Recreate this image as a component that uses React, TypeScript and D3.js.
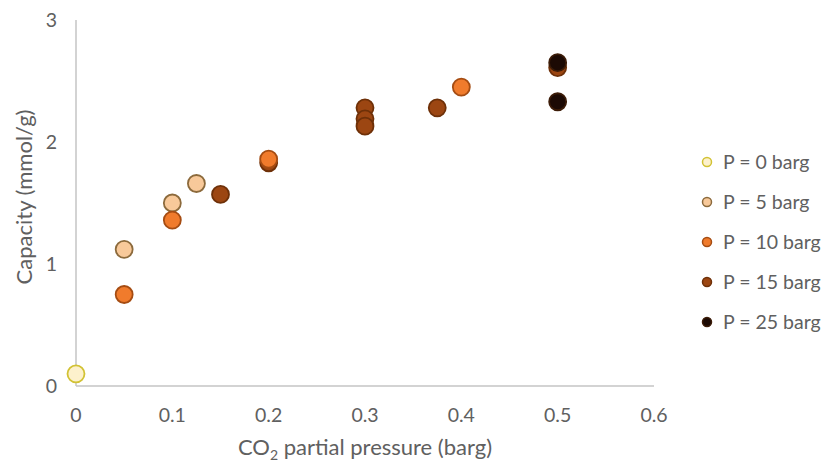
import React, { useRef, useEffect } from 'react';
import * as d3 from 'd3';

// pressure series (legend order)
const seriesNames = ['P = 0 barg', 'P = 5 barg', 'P = 10 barg', 'P = 15 barg', 'P = 25 barg'];
const seriesFill = ['#fdf1cc', '#f8c99a', '#f07b2c', '#9c4612', '#1c0a04'];
const seriesStroke = ['#d2c234', '#8c6a3c', '#a54c12', '#6e3008', '#3c1c08'];

// CO2 partial pressure (barg) / capacity (mmol/g)
const p0X = [0];
const p0Y = [0.1];
const p5X = [0.05, 0.1, 0.125];
const p5Y = [1.12, 1.5, 1.66];
const p10X = [0.05, 0.1, 0.2, 0.4];
const p10Y = [0.75, 1.36, 1.86, 2.45];
const p15X = [0.15, 0.2, 0.3, 0.3, 0.3, 0.375, 0.5];
const p15Y = [1.57, 1.83, 2.28, 2.19, 2.13, 2.28, 2.61];
const p25X = [0.5, 0.5];
const p25Y = [2.65, 2.33];

const xTicks = [0, 0.1, 0.2, 0.3, 0.4, 0.5, 0.6];
const yTicks = [0, 1, 2, 3];

const W = 837;
const H = 464;
const margin = { left: 76, top: 20, right: 183, bottom: 78 };
const FONT = 'Lato, sans-serif';
const TEXT = '#606060';

const App = () => {
  const ref = useRef<SVGGElement>(null);

  useEffect(() => {
    const g = d3.select(ref.current);
    g.selectAll('*').remove();

    const x = d3.scaleLinear().domain([0, 0.6]).range([margin.left, W - margin.right]);
    const y = d3.scaleLinear().domain([0, 3]).range([H - margin.bottom, margin.top]);

    // axis lines, no ticks or grid
    g.append('line')
      .attr('x1', x(0)).attr('x2', x(0))
      .attr('y1', y(3)).attr('y2', y(0))
      .attr('stroke', '#c4c4c4').attr('stroke-width', 1.5);
    g.append('line')
      .attr('x1', x(0)).attr('x2', x(0.6))
      .attr('y1', y(0)).attr('y2', y(0))
      .attr('stroke', '#c4c4c4').attr('stroke-width', 1.5);

    g.append('g')
      .selectAll('text')
      .data(xTicks)
      .enter()
      .append('text')
      .attr('x', d => x(d))
      .attr('y', y(0) + 36)
      .attr('text-anchor', 'middle')
      .style('font-family', FONT).style('font-size', '19.5px')
      .attr('fill', TEXT)
      .text(d => d);

    g.append('g')
      .selectAll('text')
      .data(yTicks)
      .enter()
      .append('text')
      .attr('x', x(0) - 19)
      .attr('y', d => y(d) + 7)
      .attr('text-anchor', 'end')
      .style('font-family', FONT).style('font-size', '19.5px')
      .attr('fill', TEXT)
      .text(d => d);

    // axis titles
    const xt = g.append('text')
      .attr('x', 365)
      .attr('y', 455)
      .attr('text-anchor', 'middle')
      .style('font-family', FONT).style('font-size', '22px')
      .attr('fill', TEXT);
    xt.append('tspan').text('CO');
    xt.append('tspan').attr('dy', 5).style('font-size', '14px').text('2');
    xt.append('tspan').attr('dy', -5).text(' partial pressure (barg)');

    g.append('text')
      .attr('transform', `translate(32, ${(y(0) + y(3)) / 2 - 6}) rotate(-90)`)
      .attr('text-anchor', 'middle')
      .style('font-family', FONT).style('font-size', '22px')
      .attr('fill', TEXT)
      .text('Capacity (mmol/g)');

    const xs = [p0X, p5X, p10X, p15X, p25X];
    const ys = [p0Y, p5Y, p10Y, p15Y, p25Y];
    // P=10 sits above P=15 at 0.2 in the original
    const drawOrder = [0, 1, 3, 2, 4];

    drawOrder.forEach(s => {
      g.append('g')
        .selectAll('circle')
        .data(xs[s].map((v, i) => [v, ys[s][i]]))
        .enter()
        .append('circle')
        .attr('cx', d => x(d[0]))
        .attr('cy', d => y(d[1]))
        .attr('r', 8.5)
        .attr('fill', seriesFill[s])
        .attr('stroke', seriesStroke[s])
        .attr('stroke-width', 1.8);
    });

    // legend
    const lg = g.append('g').attr('transform', 'translate(707, 162)');
    seriesNames.forEach((name, i) => {
      const row = lg.append('g').attr('transform', `translate(0, ${i * 40})`);
      row.append('circle')
        .attr('r', 4.5)
        .attr('fill', seriesFill[i])
        .attr('stroke', seriesStroke[i])
        .attr('stroke-width', 1.5);
      row.append('text')
        .attr('x', 16)
        .attr('y', 7)
        .style('font-family', FONT).style('font-size', '19.5px')
        .attr('fill', TEXT)
        .text(name);
    });
  }, []);

  return (
    <svg width={W} height={H} style={{ position: 'absolute', left: 0, top: 0, background: '#fff' }}>
      <g ref={ref} />
    </svg>
  );
};

export default App;
